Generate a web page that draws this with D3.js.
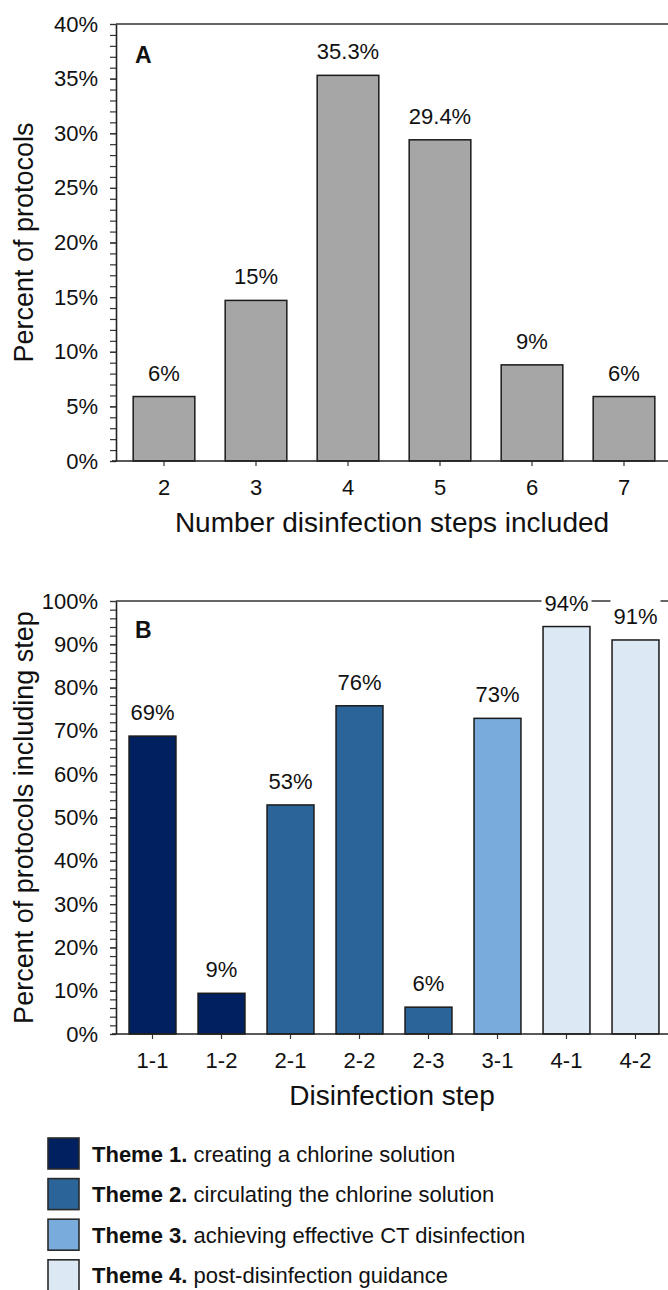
<!DOCTYPE html>
<html>
<head>
<meta charset="utf-8">
<script src="https://cdn.jsdelivr.net/npm/d3@7"></script>
<style>
  html, body { margin: 0; padding: 0; background: #fff; }
  svg { display: block; }
  text { font-family: "Liberation Sans", Arial, sans-serif; fill: #111; }
</style>
</head>
<body>
<svg id="chart" width="668" height="1290"></svg>
<script>
// ---------- data ----------
const catsA = ["2", "3", "4", "5", "6", "7"];
const valsA = [5.9, 14.7, 35.3, 29.4, 8.8, 5.9];
const labelsA = ["6%", "15%", "35.3%", "29.4%", "9%", "6%"];
const yTicksA = [0, 5, 10, 15, 20, 25, 30, 35, 40];

const catsB = ["1-1", "1-2", "2-1", "2-2", "2-3", "3-1", "4-1", "4-2"];
const valsB = [68.8, 9.4, 52.9, 75.8, 6.2, 72.9, 94.1, 91.0];
const labelsB = ["69%", "9%", "53%", "76%", "6%", "73%", "94%", "91%"];
const themeB = [0, 0, 1, 1, 1, 2, 3, 3];
const yTicksB = [0, 10, 20, 30, 40, 50, 60, 70, 80, 90, 100];

const themeNames = ["Theme 1.", "Theme 2.", "Theme 3.", "Theme 4."];
const themeDescs = ["creating a chlorine solution", "circulating the chlorine solution",
                    "achieving effective CT disinfection", "post-disinfection guidance"];
const themeColors = ["#002060", "#2B6499", "#79ABDC", "#DDE8F5"];

// ---------- drawing ----------
const svg = d3.select("#chart");

function panel(opts) {
  const g = svg.append("g");
  const y = d3.scaleLinear().domain([0, opts.max]).range([opts.bottom, opts.top]);
  const x = d3.scaleBand().domain(opts.cats).range([118, 670])
    .paddingInner(opts.pad).paddingOuter(opts.pad / 2);

  // top border
  g.append("line").attr("x1", 116).attr("x2", 668)
    .attr("y1", y(opts.max)).attr("y2", y(opts.max))
    .attr("stroke", "#333").attr("stroke-width", 1.6);

  // minor ticks
  const minor = d3.range(0, opts.max + 0.001, opts.minorStep);
  g.append("g").attr("transform", "translate(116,0)")
    .call(d3.axisLeft(y).tickValues(minor).tickFormat("").tickSize(6).tickSizeOuter(0))
    .call(s => s.select(".domain").remove())
    .selectAll("line").attr("stroke", "#333").attr("stroke-width", 1.2);

  // major y axis
  const ya = g.append("g").attr("transform", "translate(116,0)")
    .call(d3.axisLeft(y).tickValues(opts.yTicks).tickFormat(d => d + "%").tickSize(6).tickSizeOuter(0).tickPadding(12));
  ya.select(".domain").attr("stroke", "#222").attr("stroke-width", 1.6);
  ya.selectAll("line").attr("stroke", "#333").attr("stroke-width", 1.2);
  ya.selectAll("text").attr("font-size", 22).attr("font-family", "Liberation Sans, Arial, sans-serif").attr("fill", "#111");

  // bars
  g.selectAll("rect.bar").data(opts.vals).join("rect").attr("class", "bar")
    .attr("x", (d, i) => x(opts.cats[i]))
    .attr("width", x.bandwidth())
    .attr("y", d => y(d))
    .attr("height", d => y(0) - y(d))
    .attr("fill", (d, i) => opts.color(i))
    .attr("stroke", "#1a1a1a").attr("stroke-width", 1.5);

  // x axis
  const xa = g.append("g").attr("transform", `translate(0,${opts.bottom})`)
    .call(d3.axisBottom(x).tickSize(5).tickSizeOuter(0).tickPadding(13));
  xa.select(".domain").remove();
  xa.selectAll("line").attr("stroke", "#333").attr("stroke-width", 1.2);
  xa.selectAll("text").attr("font-size", 22).attr("font-family", "Liberation Sans, Arial, sans-serif").attr("fill", "#111");
  g.append("line").attr("x1", 112).attr("x2", 668)
    .attr("y1", opts.bottom).attr("y2", opts.bottom)
    .attr("stroke", "#222").attr("stroke-width", 1.6);

  // value labels with white background
  const lg = g.append("g");
  opts.vals.forEach((v, i) => {
    const t = lg.append("text")
      .attr("x", x(opts.cats[i]) + x.bandwidth() / 2)
      .attr("y", y(v) - 16)
      .attr("text-anchor", "middle")
      .attr("font-size", 22)
      .text(opts.labels[i]);
    const b = t.node().getBBox();
    lg.insert("rect", "text").attr("x", b.x - 3).attr("y", b.y - 4)
      .attr("width", b.width + 6).attr("height", b.height + 5).attr("fill", "#fff");
  });

  // panel letter
  g.append("text").attr("x", 135).attr("y", opts.top + opts.letterOff)
    .attr("font-size", 23).attr("font-weight", "bold").text(opts.letter);

  // y title
  g.append("text")
    .attr("transform", `translate(33,${(opts.top + opts.bottom) / 2}) rotate(-90)`)
    .attr("text-anchor", "middle").attr("font-size", 27).text(opts.yTitle);

  // x title
  g.append("text").attr("x", 392).attr("y", opts.bottom + 71)
    .attr("text-anchor", "middle").attr("font-size", 28).text(opts.xTitle);
}

panel({
  cats: catsA, vals: valsA, labels: labelsA, yTicks: yTicksA, max: 40, minorStep: 1,
  top: 24, bottom: 461, pad: 0.33, color: () => "#A6A6A6",
  letter: "A", letterOff: 39,
  yTitle: "Percent of protocols", xTitle: "Number disinfection steps included"
});

panel({
  cats: catsB, vals: valsB, labels: labelsB, yTicks: yTicksB, max: 100, minorStep: 2,
  top: 601, bottom: 1034, pad: 0.32, color: i => themeColors[themeB[i]],
  letter: "B", letterOff: 37,
  yTitle: "Percent of protocols including step", xTitle: "Disinfection step"
});

// legend
const leg = svg.append("g");
themeNames.forEach((name, i) => {
  const top = 1138 + 40.6 * i;
  leg.append("rect").attr("x", 48).attr("y", top).attr("width", 31).attr("height", 31)
    .attr("fill", themeColors[i]).attr("stroke", "#2a2a2a").attr("stroke-width", 1.6);
  const t = leg.append("text").attr("x", 92).attr("y", top + 23.5).attr("font-size", 22);
  t.append("tspan").attr("font-weight", "bold").text(name);
  t.append("tspan").text(" " + themeDescs[i]);
});
</script>
</body>
</html>
